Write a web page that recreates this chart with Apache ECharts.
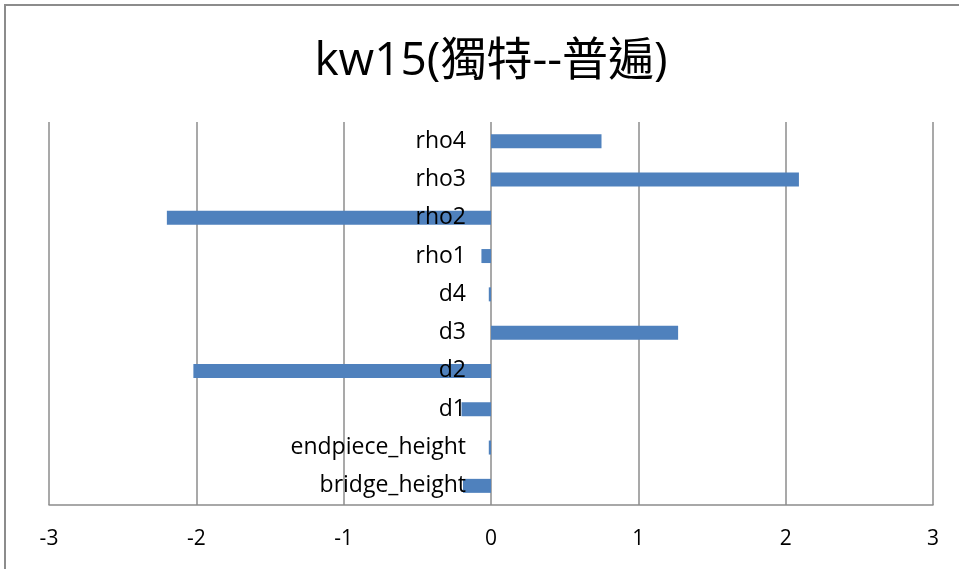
<!DOCTYPE html>
<html>
<head>
<meta charset="utf-8">
<script src="https://cdn.jsdelivr.net/npm/echarts@6/dist/echarts.min.js"></script>
<style>
  html, body { margin: 0; padding: 0; background: #fff; }
  #chart { width: 959px; height: 569px; }
</style>
</head>
<body>
<div id="chart"></div>
<script>
// categories listed bottom to top, as the y axis draws them
var categories = ['bridge_height', 'endpiece_height', 'd1', 'd2', 'd3', 'd4', 'rho1', 'rho2', 'rho3', 'rho4'];
var values = [-0.19, -0.015, -0.20, -2.02, 1.27, -0.015, -0.065, -2.20, 2.09, 0.75];
var xTicks = [-3, -2, -1, 0, 1, 2, 3];

var chart = echarts.init(document.getElementById('chart'), null, { renderer: 'canvas' });

var gridColor = '#8c8c8c';
var font = '"Open Sans", "Noto Sans CJK TC", sans-serif';

// category names sit against the zero line, like Excel does it
var labelPoints = categories.map(function (c) { return [0, c]; });

chart.setOption({
  animation: false,
  title: {
    text: 'kw15(獨特--普遍)',
    left: 486,
    textAlign: 'center',
    top: 34,
    textStyle: { fontFamily: font, fontSize: 46, fontWeight: 'normal', color: '#000' }
  },
  graphic: [{
    type: 'rect',
    shape: { x: 5, y: 5, width: 1000, height: 1000 },
    style: { fill: 'none', stroke: gridColor, lineWidth: 2 },
    silent: true
  }],
  grid: { left: 49, right: 26, top: 122, bottom: 64, containLabel: false, outerBoundsMode: 'none' },
  xAxis: {
    type: 'value',
    min: xTicks[0],
    max: xTicks[xTicks.length - 1],
    interval: 1,
    axisLine: { show: true, onZero: false, lineStyle: { color: gridColor, width: 1.5 } },
    axisTick: { show: false },
    splitLine: { show: true, lineStyle: { color: gridColor, width: 1.5 } },
    axisLabel: {
      margin: 24,
      fontSize: 21,
      color: '#000',
      fontFamily: font,
      showMinLabel: true,
      showMaxLabel: true
    }
  },
  yAxis: {
    type: 'category',
    data: categories,
    axisLine: { show: false },
    axisTick: { show: false },
    splitLine: { show: false },
    axisLabel: { show: false }
  },
  series: [{
    type: 'bar',
    data: values,
    barWidth: 14,
    itemStyle: { color: '#4f81bd' }
  }, {
    type: 'scatter',
    data: labelPoints,
    symbolSize: 0,
    silent: true,
    z: 10,
    itemStyle: { opacity: 1 },
    label: {
      show: true,
      position: 'left',
      distance: 25,
      formatter: function (p) { return p.value[1]; },
      fontSize: 23,
      color: '#000',
      fontFamily: font
    }
  }]
});
</script>
</body>
</html>
